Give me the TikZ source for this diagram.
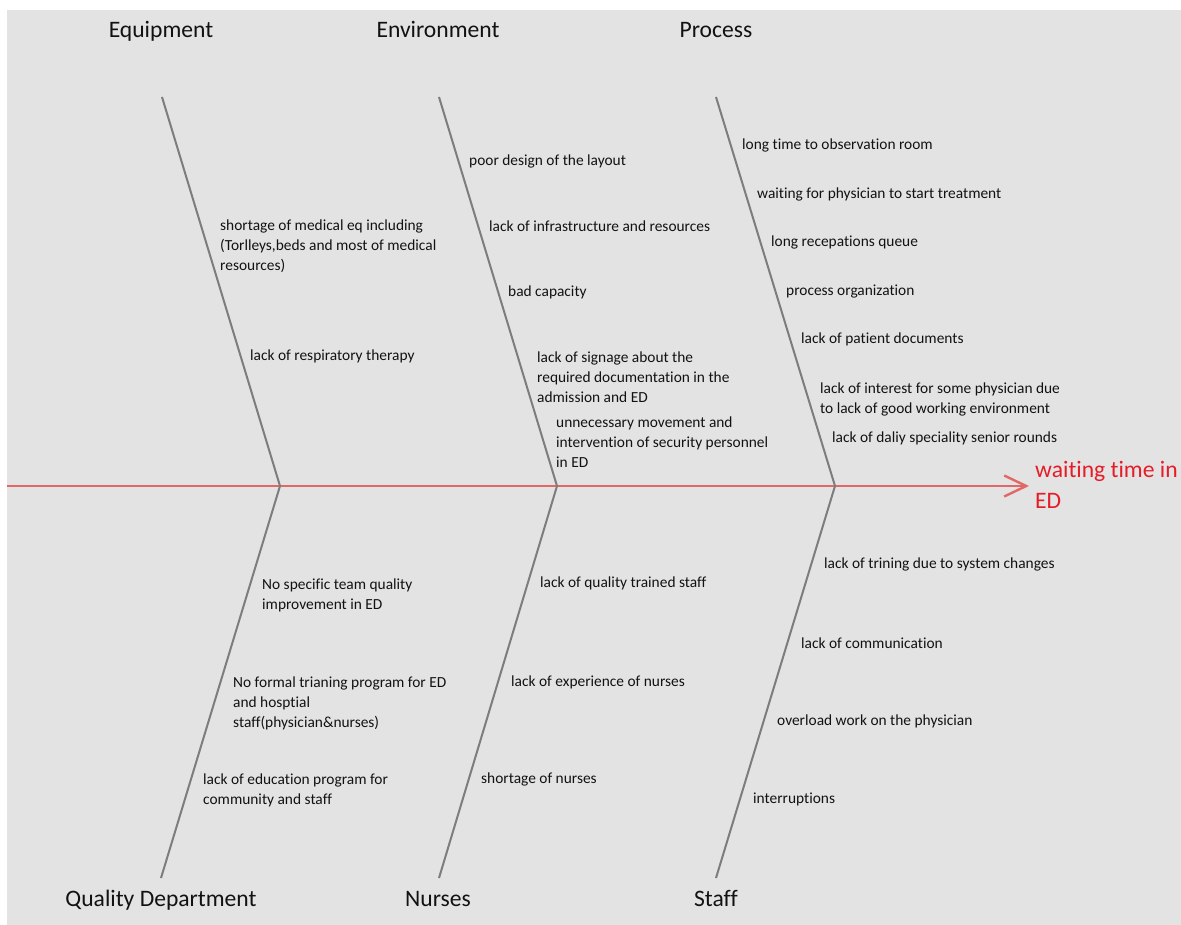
\documentclass[tikz,border=0pt]{standalone}
\usepackage{fontspec}
\setmainfont{Carlito}[Ligatures=NoCommon]
\usetikzlibrary{arrows.meta}
\definecolor{bg}{RGB}{227,227,227}
\definecolor{bone}{RGB}{125,125,125}
\definecolor{spine}{RGB}{226,104,104}
\definecolor{effect}{RGB}{230,28,40}
\definecolor{ink}{RGB}{18,18,18}
\begin{document}
\begin{tikzpicture}[x=1pt,y=-1pt,
  cause/.style={anchor=west,inner sep=0pt,align=left,text=ink,yshift=-1pt,
    font=\fontsize{15.4}{20}\selectfont},
  head/.style={anchor=base,inner sep=0pt,text=ink,font=\fontsize{23.6}{28}\selectfont},
  bonestyle/.style={draw=bone,line width=2pt,line join=miter},
  spinestyle/.style={draw=spine,line width=2.8pt,
    -{Straight Barb[length=22pt,width=21pt,line width=2.4pt]}}]
\useasboundingbox (0,0) rectangle (1181,925);
\fill[white] (0,0) rectangle (1181,925);
\fill[bg] (7,10) rectangle (1181,925);

% category headings
\node[head] (hEq)  at (161,38)  {Equipment};
\node[head] (hEnv) at (438,38)  {Environment};
\node[head] (hPr)  at (716,38)  {Process};
\node[head] (hQd)  at (161,906) {Quality Department};
\node[head] (hNu)  at (438,906) {Nurses};
\node[head] (hSt)  at (716,906) {Staff};

% bone end points and joints on the spine
\coordinate (eqTop) at (162,97);
\coordinate (eqJ)   at (280,486);
\coordinate (qdBot) at (161,878);
\coordinate (enTop) at (439,97);
\coordinate (enJ)   at (557,486);
\coordinate (nuBot) at (439,878);
\coordinate (prTop) at (716,97);
\coordinate (prJ)   at (835,486);
\coordinate (stBot) at (716,878);
\coordinate (tail)  at (7,486);
\coordinate (tip)   at (1029,486);

% spine with effect
\draw[spinestyle] (tail) -- (tip);
\node[anchor=west,inner sep=0pt,align=left,text=effect,
  font=\fontsize{23.6}{31}\selectfont] (effect) at (1035,485)
  {waiting time in\\ED};

% bones
\draw[bonestyle] (eqTop) -- (eqJ) -- (qdBot);
\draw[bonestyle] (enTop) -- (enJ) -- (nuBot);
\draw[bonestyle] (prTop) -- (prJ) -- (stBot);

% Equipment causes
\node[cause] (eq1) at (220,245) {shortage of medical eq including\\(Torlleys,beds and most of medical\\resources)};
\node[cause] (eq2) at (250,355) {lack of respiratory therapy};

% Environment causes
\node[cause] (en1) at (469,160) {poor design of the layout};
\node[cause] (en2) at (489,225) {lack of infrastructure and resources};
\node[cause] (en3) at (508,291) {bad capacity};
\node[cause] (en4) at (537,376) {lack of signage about the\\required documentation in the\\admission and ED};
\node[cause] (en5) at (556,441) {unnecessary movement and\\intervention of security personnel\\in ED};

% Process causes
\node[cause] (pr1) at (742,144) {long time to observation room};
\node[cause] (pr2) at (757,193) {waiting for physician to start treatment};
\node[cause] (pr3) at (771,241) {long recepations queue};
\node[cause] (pr4) at (786,291) {process organization};
\node[cause] (pr5) at (801,338) {lack of patient documents};
\node[cause] (pr6) at (820,398) {lack of interest for some physician due\\to lack of good working environment};
\node[cause] (pr7) at (832,437) {lack of daliy speciality senior rounds};

% Quality Department causes
\node[cause] (qd1) at (262,594) {No specific team quality\\improvement in ED};
\node[cause] (qd2) at (233,702) {No formal trianing program for ED\\and hosptial\\staff(physician\&nurses)};
\node[cause] (qd3) at (203,789) {lack of education program for\\community and staff};

% Nurses causes
\node[cause] (nu1) at (540,582) {lack of quality trained staff};
\node[cause] (nu2) at (511,681) {lack of experience of nurses};
\node[cause] (nu3) at (481,778) {shortage of nurses};

% Staff causes
\node[cause] (st1) at (824,563) {lack of trining due to system changes};
\node[cause] (st2) at (801,642) {lack of communication};
\node[cause] (st3) at (777,720) {overload work on the physician};
\node[cause] (st4) at (753,798) {interruptions};
\end{tikzpicture}
\end{document}
